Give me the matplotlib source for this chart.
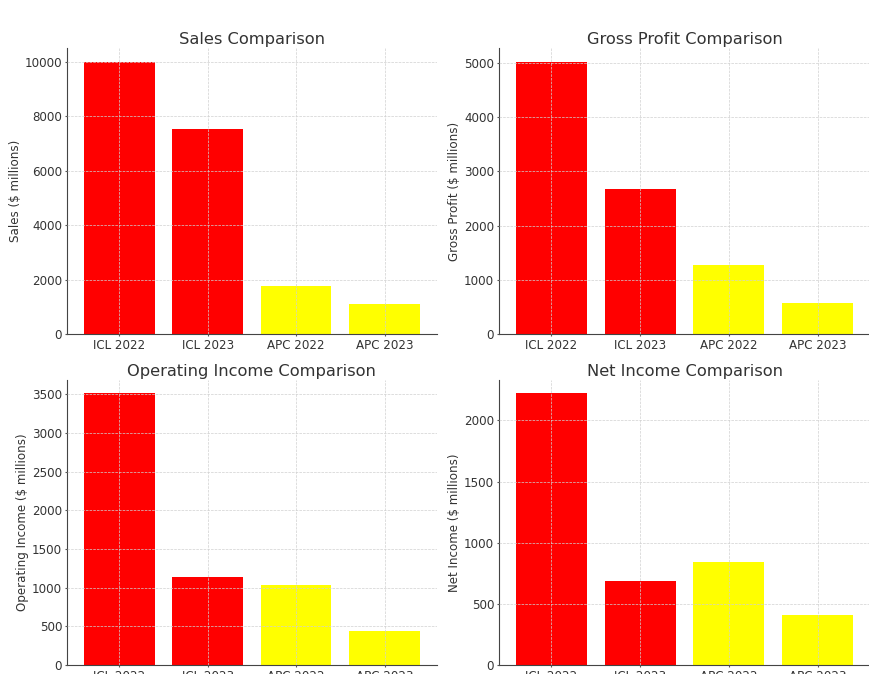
import matplotlib.pyplot as plt

labels = ['ICL 2022', 'ICL 2023', 'APC 2022', 'APC 2023']
colors = ['red', 'red', 'yellow', 'yellow']

sales = [10000, 7530, 1770, 1110]
gross_profit = [5020, 2670, 1280, 580]
operating_income = [3510, 1140, 1040, 440]
net_income = [2220, 690, 840, 410]

panels = [
    (sales, 'Sales Comparison', 'Sales ($ millions)'),
    (gross_profit, 'Gross Profit Comparison', 'Gross Profit ($ millions)'),
    (operating_income, 'Operating Income Comparison', 'Operating Income ($ millions)'),
    (net_income, 'Net Income Comparison', 'Net Income ($ millions)'),
]

# axes boxes (figure fraction) - figure looks cropped at the bottom
boxes = [
    [0.077, 0.5045, 0.425, 0.424],
    [0.5736, 0.5045, 0.4264, 0.424],
    [0.077, 0.01335, 0.425, 0.423],
    [0.5736, 0.01335, 0.4264, 0.423],
]

fig = plt.figure(figsize=(8.7, 6.74), dpi=100)
txt = '#333333'

for (vals, title, ylab), box in zip(panels, boxes):
    ax = fig.add_axes(box)
    ax.bar(labels, vals, color=colors)
    ax.set_title(title, fontsize=11.7, color=txt, pad=3)
    ax.set_ylabel(ylab, fontsize=8.6, color=txt, labelpad=2)
    ax.tick_params(axis='both', labelsize=8.6, colors='#555555',
                   labelcolor=txt, length=1.5, pad=2)
    ax.grid(True, linestyle='--', linewidth=0.5, color='#d0d0d0')
    ax.set_axisbelow(False)
    ax.spines['top'].set_visible(False)
    ax.spines['right'].set_visible(False)
    ax.spines['left'].set_color('#444444')
    ax.spines['bottom'].set_color('#444444')

fig.savefig('out.png', dpi=100)
